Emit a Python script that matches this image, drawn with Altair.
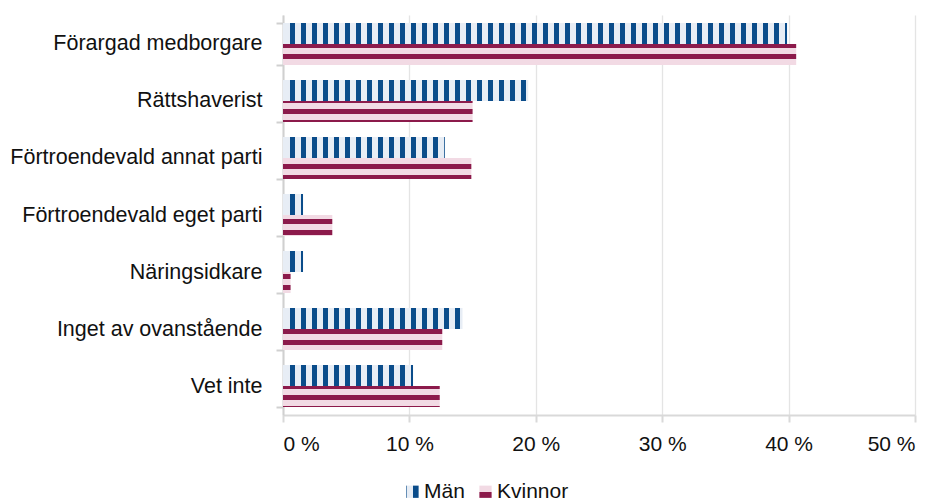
import altair as alt
import pandas as pd

categories = [
    "Förargad medborgare",
    "Rättshaverist",
    "Förtroendevald annat parti",
    "Förtroendevald eget parti",
    "Näringsidkare",
    "Inget av ovanstående",
    "Vet inte",
]
series = ["Män", "Kvinnor"]
man = [39.9, 19.4, 12.8, 1.6, 1.6, 14.2, 10.3]
kvinnor = [40.6, 15.0, 14.9, 3.9, 0.6, 12.6, 12.4]
x_ticks = [0, 10, 20, 30, 40, 50]

# layout / style
W, H = 632, 400
PAD_TOP, PAD_LEFT = 7, 275
PAD_IN, PAD_OUT = 0.263, 0.14
BLUE, BLUE_BG = "#0a4c8a", "#e7edf5"
RED, RED_BG = "#8c1a4b", "#f2dae4"
FONT = "Liberation Sans"

px_per = W / 50.0
step = H / (len(categories) - PAD_IN + 2 * PAD_OUT)
bw = step * (1 - PAD_IN)


def hstripes(length):
    """vertical stripes, fixed pixel pitch, as bbox-relative gradient"""
    stops = [{"offset": 0, "color": BLUE_BG}]
    k = 0
    while 7 + 11 * k < length:
        s = (7 + 11 * k) / length
        e = min((12 + 11 * k) / length, 1.0)
        stops += [
            {"offset": s, "color": BLUE_BG},
            {"offset": s, "color": BLUE},
            {"offset": e, "color": BLUE},
            {"offset": e, "color": BLUE_BG},
        ]
        k += 1
    stops.append({"offset": 1, "color": BLUE_BG})
    return {"gradient": "linear", "x1": 0, "y1": 0, "x2": 1, "y2": 0, "stops": stops}


def vstripes(top, h):
    """horizontal stripes fixed to page phase"""
    page_top = top + PAD_TOP + 8
    stops = [{"offset": 0, "color": RED_BG}]
    phase, period, dark = 9.7, 11.0, 5.0
    k = int((page_top - phase) // period)
    while True:
        ds = phase + k * period
        de = ds + dark
        if ds >= page_top + h:
            break
        s = max(ds, page_top)
        e = min(de, page_top + h)
        if e > s:
            so = (s - page_top) / h
            eo = (e - page_top) / h
            stops += [
                {"offset": so, "color": RED_BG},
                {"offset": so, "color": RED},
                {"offset": eo, "color": RED},
                {"offset": eo, "color": RED_BG},
            ]
        k += 1
    stops.append({"offset": 1, "color": RED_BG})
    return {"gradient": "linear", "x1": 0, "y1": 0, "x2": 0, "y2": 1, "stops": stops}


rows = []
for i, c in enumerate(categories):
    band_top = step * PAD_OUT + i * step
    rows.append({"category": c, "series": "Män", "value": man[i],
                 "grad": hstripes(man[i] * px_per)})
    rows.append({"category": c, "series": "Kvinnor", "value": kvinnor[i],
                 "grad": vstripes(band_top + bw / 2, bw / 2)})
df = pd.DataFrame(rows)

y_enc = alt.Y(
    "category:N",
    sort=categories,
    scale=alt.Scale(paddingInner=PAD_IN, paddingOuter=PAD_OUT),
    axis=alt.Axis(
        title=None,
        tickBand="extent",
        tickSize=7,
        tickColor="#d0d0d0",
        tickWidth=2,
        domainColor="#d0d0d0",
        domainWidth=2,
        labelFont=FONT,
        labelFontSize=21.5,
        labelColor="#111111",
        labelPadding=14,
        labelLimit=0,
        grid=False,
    ),
)
x_enc = alt.X(
    "value:Q",
    scale=alt.Scale(domain=[0, 50], nice=False),
    axis=alt.Axis(
        title=None,
        values=x_ticks,
        labelExpr="datum.value + ' %'",
        grid=True,
        gridColor="#e4e4e4",
        gridWidth=1.3,
        tickSize=7,
        tickColor="#d9d9d9",
        tickWidth=2,
        domainColor="#d9d9d9",
        domainWidth=2,
        labelFont=FONT,
        labelFontSize=21,
        labelColor="#111111",
        labelPadding=11,
    ),
)

bars = alt.Chart(df).mark_bar(cornerRadius=0).encode(
    y=y_enc,
    yOffset=alt.YOffset("series:N", sort=series),
    x=x_enc,
    fill=alt.Fill("grad:N", scale=None),
)

man_leg = ("{gradient: 'linear', x1: 0, y1: 0, x2: 1, y2: 0, stops: ["
           "{offset: 0, color: '" + BLUE + "'}, {offset: 0.09, color: '" + BLUE + "'},"
           "{offset: 0.09, color: '" + BLUE_BG + "'}, {offset: 0.58, color: '" + BLUE_BG + "'},"
           "{offset: 0.58, color: '" + BLUE + "'}, {offset: 1, color: '" + BLUE + "'}]}")
kv_leg = ("{gradient: 'linear', x1: 0, y1: 0, x2: 0, y2: 1, stops: ["
          "{offset: 0, color: '" + RED_BG + "'}, {offset: 0.5, color: '" + RED_BG + "'},"
          "{offset: 0.5, color: '" + RED + "'}, {offset: 1, color: '" + RED + "'}]}")

legend_layer = alt.Chart(df).mark_bar().encode(
    y=alt.Y("category:N", sort=categories),
    x=alt.X("value:Q"),
    color=alt.Color(
        "series:N",
        sort=series,
        scale=alt.Scale(domain=series, range=[alt.ExprRef(expr=man_leg), alt.ExprRef(expr=kv_leg)]),
        legend=alt.Legend(
            title=None,
            orient="none",
            direction="horizontal",
            legendX=119,
            legendY=466,
            symbolType="square",
            symbolSize=150,
            symbolStrokeWidth=0,
            labelFont=FONT,
            labelFontSize=21,
            labelColor="#111111",
            labelOffset=1,
            columnPadding=10,
            padding=0,
        ),
    ),
).transform_filter("false")

chart = (
    alt.layer(bars, legend_layer)
    .properties(
        width=W,
        height=H,
        autosize=alt.AutoSizeParams(type="none"),
        padding={"left": PAD_LEFT, "top": PAD_TOP, "right": 20, "bottom": 88},
        background="white",
    )
    .configure_view(stroke=None)
)

chart.save("out.html", embed_options={"renderer": "svg", "actions": False})
